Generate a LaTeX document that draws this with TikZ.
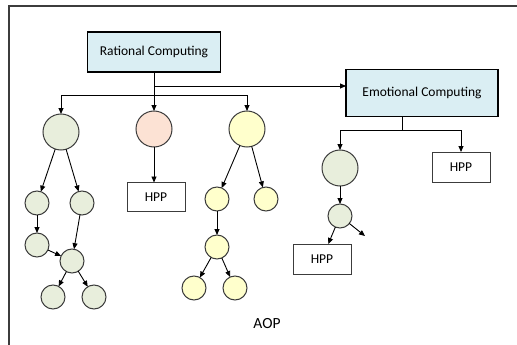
\documentclass[tikz,border=0pt]{standalone}
\usepackage{fontspec}
\setmainfont{Carlito}
\usepackage{tikz}
\usetikzlibrary{arrows.meta, positioning}
\definecolor{CompBlue}{RGB}{218,238,243}
\definecolor{NodeGreen}{RGB}{232,238,220}
\definecolor{NodePink}{RGB}{252,226,212}
\definecolor{NodeYellow}{RGB}{255,255,204}
\definecolor{EdgeGray}{RGB}{60,60,60}
\tikzstyle{arrow} = [-{Triangle[length=6pt, width=5pt]}, draw=black, line width=0.9pt]
\tikzstyle{line} = [draw=black, line width=0.9pt]
\tikzstyle{comp} = [rectangle, draw=black, line width=1.4pt, fill=CompBlue, font=\fontsize{13.5}{16}\selectfont]
\tikzstyle{hpp} = [rectangle, draw=EdgeGray, line width=1pt, fill=white, minimum width=58pt, minimum height=29pt, font=\fontsize{13.5}{16}\selectfont]
\tikzstyle{big} = [circle, draw=EdgeGray, line width=1pt, minimum size=36pt]
\tikzstyle{small} = [circle, draw=EdgeGray, line width=1pt, minimum size=24pt]

\begin{document}
\begin{tikzpicture}[x=1pt, y=-1pt, inner sep=0pt, outer sep=0pt]
	\useasboundingbox (0,0) rectangle (517,345);
	% frame
	\draw[EdgeGray, line width=1.3pt] (9,345) -- (9,6) -- (517,6);

	% COMPUTING
	\node (RC) [comp, minimum width=133pt, minimum height=40pt] at (154,52) {Rational Computing};
	\node (EC) [comp, minimum width=152pt, minimum height=47pt] at (422,93) {Emotional Computing};

	% rational side
	\node (gA) [big, fill=NodeGreen] at (61,132) {};
	\node (pA) [big, fill=NodePink] at (154,129) {};
	\node (yA) [big, fill=NodeYellow] at (247,129) {};
	\node (hppA) [hpp] at (156,197) {HPP};

	\node (gB) [small, fill=NodeGreen] at (37,203) {};
	\node (gC) [small, fill=NodeGreen] at (82,203) {};
	\node (gD) [small, fill=NodeGreen] at (37,245) {};
	\node (gE) [small, fill=NodeGreen] at (72,261) {};
	\node (gF) [small, fill=NodeGreen] at (53,297) {};
	\node (gG) [small, fill=NodeGreen] at (94,297) {};

	\node (yB) [small, fill=NodeYellow] at (217,199) {};
	\node (yC) [small, fill=NodeYellow] at (266,199) {};
	\node (yD) [small, fill=NodeYellow] at (217,247) {};
	\node (yE) [small, fill=NodeYellow] at (194,288) {};
	\node (yF) [small, fill=NodeYellow] at (235,288) {};

	% emotional side
	\node (eA) [big, fill=NodeGreen] at (340,168) {};
	\node (eB) [small, fill=NodeGreen] at (340,216) {};
	\node (hppB) [hpp, minimum height=30pt] at (461,167) {HPP};
	\node (hppC) [hpp, minimum height=30pt] at (322,259) {HPP};

	\node (AOP) [font=\fontsize{15.5}{18}\selectfont] at (267,324) {AOP};

	\coordinate (tap) at (154,86);
	\coordinate (bus) at (154,95);
	\coordinate (ebus) at (402,130);
	\coordinate (loose) at (365,236);

	\draw [arrow] (RC) -- (pA);
	\draw [arrow] (bus) -| (gA);
	\draw [arrow] (bus) -| (yA);
	\draw [arrow] (tap) -- (tap -| EC.west);
	\draw [arrow] (pA) -- (pA |- hppA.north);

	\draw [arrow] (gA) -- (gB);
	\draw [arrow] (gA) -- (gC);
	\draw [arrow] (gB) -- (gD);
	\draw [arrow] (gC) -- (gE);
	\draw [arrow] (gD) -- (gE);
	\draw [arrow] (gE) -- (gF);
	\draw [arrow] (gE) -- (gG);

	\draw [arrow] (yA) -- (yB);
	\draw [arrow] (yA) -- (yC);
	\draw [arrow] (yB) -- (yD);
	\draw [arrow] (yD) -- (yE);
	\draw [arrow] (yD) -- (yF);

	\draw [line] (ebus |- EC.south) -- (ebus);
	\draw [arrow] (ebus) -| (eA);
	\draw [arrow] (ebus) -| (hppB);
	\draw [arrow] (eA) -- (eB);
	\draw [arrow] (eB) -- (hppC);
	\draw [arrow] (eB) -- (loose);
\end{tikzpicture}
\end{document}
